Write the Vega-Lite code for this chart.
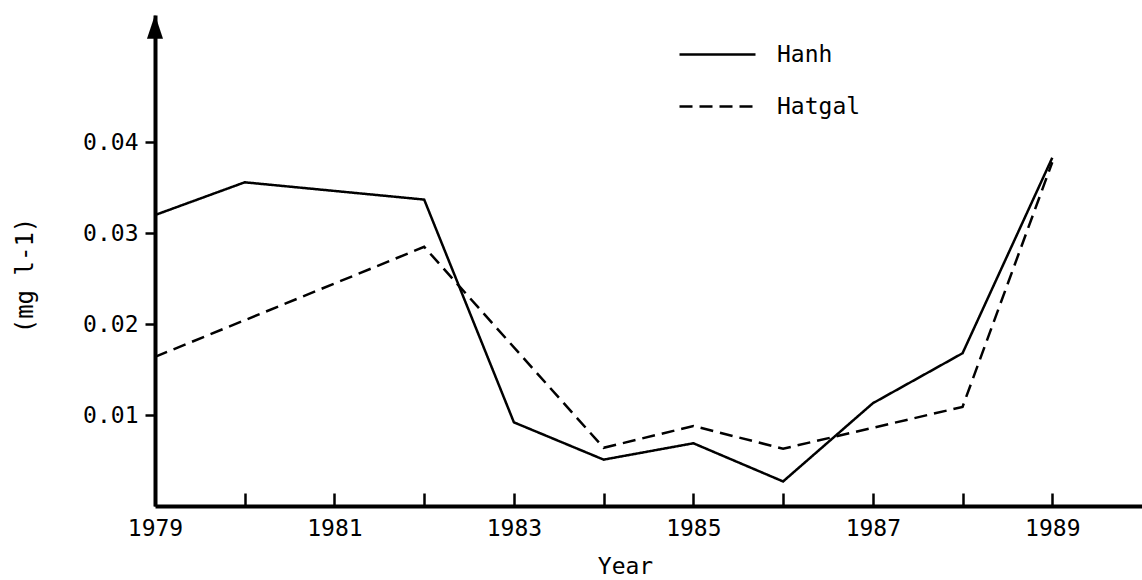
{
  "$schema": "https://vega.github.io/schema/vega-lite/v6.json",
  "width": 987,
  "height": 491,
  "autosize": {"type": "none"},
  "padding": {"left": 155, "top": 15, "right": 0, "bottom": 74},
  "background": "white",
  "config": {
    "view": {"stroke": null},
    "font": "DejaVu Sans Mono",
    "axis": {
      "grid": false,
      "domainColor": "black",
      "domainWidth": 4,
      "tickColor": "black",
      "tickWidth": 2.5,
      "labelColor": "black",
      "labelFont": "DejaVu Sans Mono",
      "labelFontSize": 23,
      "titleColor": "black",
      "titleFont": "DejaVu Sans Mono",
      "titleFontSize": 23,
      "titleFontWeight": "normal"
    }
  },
  "datasets": {
    "series": [
      {"site": "Hanh", "year": 1979, "value": 0.0320},
      {"site": "Hanh", "year": 1980, "value": 0.0356},
      {"site": "Hanh", "year": 1982, "value": 0.0337},
      {"site": "Hanh", "year": 1983, "value": 0.0092},
      {"site": "Hanh", "year": 1984, "value": 0.0051},
      {"site": "Hanh", "year": 1985, "value": 0.0069},
      {"site": "Hanh", "year": 1986, "value": 0.0027},
      {"site": "Hanh", "year": 1987, "value": 0.0113},
      {"site": "Hanh", "year": 1988, "value": 0.0168},
      {"site": "Hanh", "year": 1989, "value": 0.0383},
      {"site": "Hatgal", "year": 1979, "value": 0.0164},
      {"site": "Hatgal", "year": 1982, "value": 0.0285},
      {"site": "Hatgal", "year": 1984, "value": 0.0064},
      {"site": "Hatgal", "year": 1985, "value": 0.0088},
      {"site": "Hatgal", "year": 1986, "value": 0.0063},
      {"site": "Hatgal", "year": 1988, "value": 0.0109},
      {"site": "Hatgal", "year": 1989, "value": 0.0378}
    ]
  },
  "layer": [
    {
      "data": {"name": "series"},
      "mark": {"type": "line", "color": "black", "strokeWidth": 2.5},
      "encoding": {
        "x": {
          "field": "year",
          "type": "quantitative",
          "scale": {"domain": [1979, 1990], "nice": false, "zero": false},
          "axis": {
            "values": [1979, 1980, 1981, 1982, 1983, 1984, 1985, 1986, 1987, 1988, 1989],
            "format": "d",
            "labelExpr": "datum.value % 2 == 1 ? datum.label : ''",
            "tickSize": -13,
            "labelPadding": 24,
            "labelFlush": false,
            "labelOverlap": false,
            "title": "Year",
            "titleX": 470,
            "titleY": 60,
            "titleBaseline": "middle",
            "titleAlign": "center"
          }
        },
        "y": {
          "field": "value",
          "type": "quantitative",
          "scale": {"domain": [0, 0.054], "nice": false},
          "axis": {
            "values": [0.01, 0.02, 0.03, 0.04],
            "format": ".2f",
            "tickSize": 10,
            "labelPadding": 7,
            "title": "(mg l-1)",
            "titleFontSize": 24,
            "titleX": -130,
            "titleY": 260,
            "titleAngle": 270,
            "titleAlign": "center",
            "titleBaseline": "middle"
          }
        },
        "strokeDash": {
          "field": "site",
          "type": "nominal",
          "scale": {"domain": ["Hanh", "Hatgal"], "range": [[1, 0], [13, 7]]},
          "legend": {
            "orient": "none",
            "legendX": 523,
            "legendY": 0,
            "title": null,
            "symbolType": "stroke",
            "symbolSize": 5776,
            "symbolStrokeWidth": 2.5,
            "symbolStrokeColor": "black",
            "labelFont": "DejaVu Sans Mono",
            "labelFontSize": 23,
            "labelColor": "black",
            "labelOffset": 20,
            "rowPadding": -1,
            "padding": 0
          }
        }
      }
    },
    {
      "data": {"values": [{}]},
      "mark": {"type": "point", "shape": "M0,-1L0.67,1L-0.67,1Z", "filled": true, "color": "black", "opacity": 1, "size": 576},
      "encoding": {
        "x": {"datum": 1979},
        "y": {"datum": 0.0527}
      }
    }
  ]
}
